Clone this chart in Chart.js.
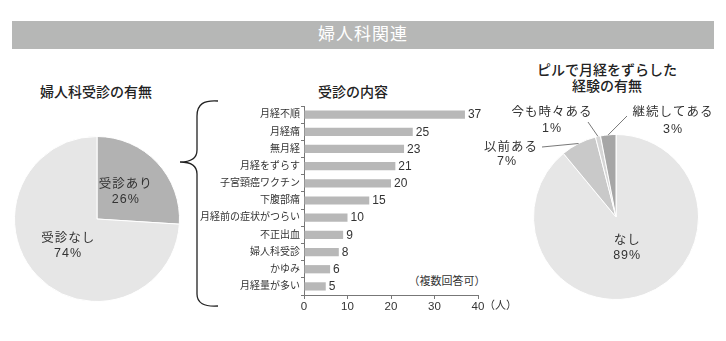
<!DOCTYPE html>
<html lang="ja">
<head>
<meta charset="utf-8">
<script src="https://cdn.jsdelivr.net/npm/chart.js@4"></script>
<style>
  body { margin: 0; background: #fff; font-family: 'Liberation Sans', 'Noto Sans CJK JP', sans-serif; color: #222; }
  #page { position: relative; width: 726px; height: 341px; overflow: hidden; }
  #banner { position: absolute; left: 12px; top: 21px; width: 702px; height: 28px; background: #b6b7b6;
            color: #fff; font-size: 17px; line-height: 28px; text-align: center; letter-spacing: 1px; }
  .title { position: absolute; font-size: 14px; font-weight: 500; color: #222; text-align: center;
           line-height: 16px; transform: translateX(-50%); white-space: nowrap; }
  .note { position: absolute; font-size: 11px; color: #333; transform: translate(-50%, -50%); white-space: nowrap; }
  canvas { position: absolute; }
  svg { position: absolute; left: 0; top: 0; }
</style>
</head>
<body>
<div id="page">
  <div id="banner">婦人科関連</div>
  <div class="title" style="left:96px; top:84px;">婦人科受診の有無</div>
  <div class="title" style="left:353px; top:84px;">受診の内容</div>
  <div class="title" style="left:607px; top:62px;">ピルで月経をずらした<br>経験の有無</div>
  <div class="note" style="left:447px; top:280px;">（複数回答可）</div>

  <svg width="726" height="341">
    <path d="M 218 101 C 204 100, 197 104, 197 116 L 197 150 C 197 158, 191 162, 180 162
             C 191 162, 197 166, 197 174 L 197 294 C 197 303, 204 307, 218 306"
          fill="none" stroke="#222" stroke-width="1.3"/>
  </svg>

  <canvas id="visitChart" style="left:0px; top:120px;" width="190" height="200"></canvas>
  <canvas id="reasonChart" style="left:190px; top:95px;" width="330" height="225"></canvas>
  <canvas id="pillChart" style="left:480px; top:95px;" width="246" height="220"></canvas>
</div>

<script>
// 婦人科受診の有無 (%)
const visitLabels = ['受診あり', '受診なし'];
const visitValues = [26, 74];
const visitColors = ['#b2b2b2', '#e6e6e6'];

// 受診の内容 (人, 複数回答可)
const reasonLabels = ['月経不順', '月経痛', '無月経', '月経をずらす', '子宮頸癌ワクチン', '下腹部痛',
                      '月経前の症状がつらい', '不正出血', '婦人科受診', 'かゆみ', '月経量が多い'];
const reasonValues = [37, 25, 23, 21, 20, 15, 10, 9, 8, 6, 5];
const reasonTicks = [0, 10, 20, 30, 40];

// ピルで月経をずらした経験の有無 (%)
const pillLabels = ['なし', '以前ある', '今も時々ある', '継続してある'];
const pillValues = [89, 7, 1, 3];
const pillColors = ['#e6e6e6', '#c9c9c9', '#d6d6d6', '#a6a6a6'];

const fontStack = "'Liberation Sans', 'Noto Sans CJK JP', sans-serif";
Chart.defaults.font.family = fontStack;
Chart.defaults.color = '#333';
Chart.defaults.animation = false;
Chart.defaults.plugins.legend.display = false;
Chart.defaults.plugins.tooltip.enabled = false;

const labelFont = '12.5px ' + fontStack;

// two-line label (name / percent) inside a slice
function drawInside(ctx, arc, name, value, ratio) {
  const mid = (arc.startAngle + arc.endAngle) / 2;
  const r = arc.outerRadius * ratio;
  const x = arc.x + Math.cos(mid) * r;
  const y = arc.y + Math.sin(mid) * r;
  ctx.fillText(name, x, y - 7.5);
  ctx.fillText(value + '%', x, y + 7.5);
}

const insideLabels = {
  id: 'insideLabels',
  afterDatasetsDraw(chart, args, opts) {
    const ctx = chart.ctx;
    const meta = chart.getDatasetMeta(0);
    const names = chart.data.labels;
    const values = chart.data.datasets[0].data;
    ctx.save();
    ctx.font = labelFont;
    ctx.letterSpacing = '1px';
    ctx.fillStyle = '#333';
    ctx.textAlign = 'center';
    ctx.textBaseline = 'middle';
    opts.indexes.forEach(i => drawInside(ctx, meta.data[i], names[i], values[i], opts.ratio));
    ctx.restore();
  }
};

// callouts with leader lines for the thin slices (offsets from the pie centre)
const callouts = {
  1: { text: [-105, -69], pct: [-109, -55], end: [-74, -70] },
  2: { text: [-64, -104], pct: [-64, -88], end: [-28, -95] },
  3: { text: [57, -104], pct: [57, -87], end: [11, -101] }
};

const calloutLabels = {
  id: 'calloutLabels',
  afterDatasetsDraw(chart) {
    const ctx = chart.ctx;
    const meta = chart.getDatasetMeta(0);
    const names = chart.data.labels;
    const values = chart.data.datasets[0].data;
    ctx.save();
    ctx.font = labelFont;
    ctx.letterSpacing = '1px';
    ctx.textAlign = 'center';
    ctx.textBaseline = 'middle';
    Object.keys(callouts).forEach(k => {
      const i = Number(k);
      const c = callouts[k];
      const arc = meta.data[i];
      const mid = (arc.startAngle + arc.endAngle) / 2;
      ctx.strokeStyle = '#555';
      ctx.lineWidth = 0.8;
      ctx.beginPath();
      ctx.moveTo(arc.x + Math.cos(mid) * arc.outerRadius, arc.y + Math.sin(mid) * arc.outerRadius);
      ctx.lineTo(arc.x + c.end[0], arc.y + c.end[1]);
      ctx.stroke();
      ctx.fillStyle = '#333';
      ctx.fillText(names[i], arc.x + c.text[0], arc.y + c.text[1]);
      ctx.fillText(values[i] + '%', arc.x + c.pct[0], arc.y + c.pct[1]);
    });
    ctx.restore();
  }
};

// value at the end of every bar, plus the unit after the last x tick
const barValues = {
  id: 'barValues',
  afterDatasetsDraw(chart) {
    const ctx = chart.ctx;
    const meta = chart.getDatasetMeta(0);
    const values = chart.data.datasets[0].data;
    ctx.save();
    ctx.font = '12px ' + fontStack;
    ctx.fillStyle = '#333';
    ctx.textAlign = 'left';
    ctx.textBaseline = 'middle';
    meta.data.forEach((bar, i) => ctx.fillText(values[i], bar.x + 3, bar.y + 0.5));
    const xs = chart.scales.x;
    ctx.font = '11px ' + fontStack;
    ctx.fillText('（人）', xs.getPixelForValue(reasonTicks[reasonTicks.length - 1]) + 6, xs.top + 11);
    ctx.restore();
  }
};

function pieConfig(labels, values, colors, padding, plugins, pluginOpts) {
  return {
    type: 'pie',
    data: {
      labels: labels,
      datasets: [{
        data: values,
        backgroundColor: colors,
        borderColor: '#fff',
        borderWidth: 1,
        hoverOffset: 0
      }]
    },
    options: {
      responsive: false,
      layout: { padding: padding },
      plugins: pluginOpts
    },
    plugins: plugins
  };
}

new Chart(document.getElementById('visitChart'),
  pieConfig(visitLabels, visitValues, visitColors,
    { left: 14, right: 10, top: 16, bottom: 18 },
    [insideLabels],
    { insideLabels: { indexes: [0, 1], ratio: 0.48 } }));

new Chart(document.getElementById('pillChart'),
  pieConfig(pillLabels, pillValues, pillColors,
    { left: 53, right: 27, top: 39, bottom: 15 },
    [insideLabels, calloutLabels],
    { insideLabels: { indexes: [0], ratio: 0.4 } }));

new Chart(document.getElementById('reasonChart'), {
  type: 'bar',
  data: {
    labels: reasonLabels,
    datasets: [{
      data: reasonValues,
      backgroundColor: '#b8b8b8',
      barPercentage: 1,
      categoryPercentage: 0.48
    }]
  },
  options: {
    responsive: false,
    indexAxis: 'y',
    layout: { padding: { top: 11, right: 42, left: 0, bottom: 0 } },
    scales: {
      x: {
        min: reasonTicks[0],
        max: reasonTicks[reasonTicks.length - 1],
        afterBuildTicks: s => { s.ticks = reasonTicks.map(v => ({ value: v })); },
        afterFit: s => { s.height = 25; },
        grid: { drawOnChartArea: false, tickLength: 4, color: '#777' },
        border: { color: '#777' },
        ticks: { font: { size: 11.5 }, color: '#333', padding: 1, maxRotation: 0 }
      },
      y: {
        afterFit: s => { s.width = 114; },
        grid: { drawOnChartArea: false, offset: true, tickLength: 3, color: '#777' },
        border: { color: '#777' },
        ticks: { font: { size: 10 }, color: '#333', padding: 1, autoSkip: false }
      }
    }
  },
  plugins: [barValues]
});
</script>
</body>
</html>
